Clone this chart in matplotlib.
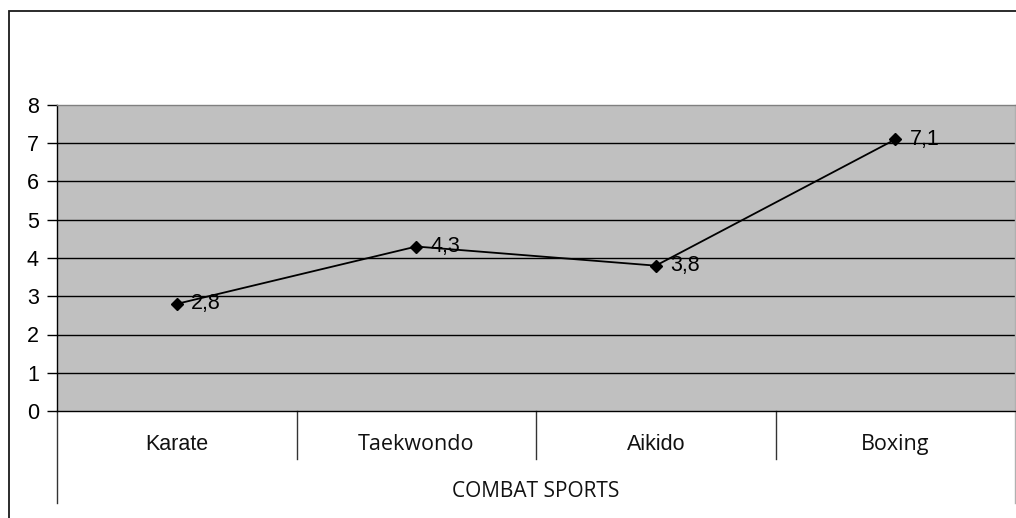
import matplotlib
matplotlib.use("Agg")
import matplotlib.pyplot as plt
from matplotlib.patches import Rectangle

sports = ["Karate", "Taekwondo", "Aikido", "Boxing"]
scores = [2.8, 4.3, 3.8, 7.1]
score_labels = ["2,8", "4,3", "3,8", "7,1"]
y_ticks = [0, 1, 2, 3, 4, 5, 6, 7, 8]
axis_title = "COMBAT SPORTS"

W, H = 1016, 518
fig = plt.figure(figsize=(W / 100, H / 100), dpi=100)
fig.patch.set_facecolor("white")

# outer chart frame, running off the right and bottom edges
fig.patches.append(Rectangle((9 / W, -0.05), 1.2, (H - 11) / H + 0.05,
                             transform=fig.transFigure, fill=False,
                             edgecolor="#1a1a1a", linewidth=1.3))

ax = fig.add_axes([57 / W, (H - 411) / H, (1015 - 57) / W, (411 - 105) / H])
ax.set_facecolor("#c0c0c0")
ax.set_xlim(0, len(sports))
ax.set_ylim(0, 8)

for v in y_ticks[1:-1]:
    ax.axhline(v, color="black", linewidth=1.0, zorder=1)

ax.spines["top"].set_color("#808080")
ax.spines["right"].set_color("#b0b0b0")
ax.spines["left"].set_color("black")
ax.spines["bottom"].set_color("black")
for s in ax.spines.values():
    s.set_linewidth(1.0)

ax.set_yticks(y_ticks)
ax.set_yticklabels([str(v) for v in y_ticks], family="Liberation Sans",
                   fontsize=15.5)
ax.tick_params(axis="y", length=7, width=1, color="black", pad=6)
ax.set_xticks([])

xs = [i + 0.5 for i in range(len(sports))]
ax.plot(xs, scores, color="black", linewidth=1.3, marker="D",
        markersize=6.5, markerfacecolor="black", zorder=3)
for x, y, lab in zip(xs, scores, score_labels):
    ax.text(x + 0.06, y, lab, va="center", ha="left", fontsize=15.5,
            family="Liberation Sans", color="black", zorder=4)

# category boxes below the axis
tr = ax.get_xaxis_transform()
for i in range(1, len(sports)):
    ax.plot([i, i], [0, -0.157], color="#333333", linewidth=1.0,
            transform=tr, clip_on=False)
ax.plot([0, 0], [0, -0.301], color="#333333", linewidth=1.0,
        transform=tr, clip_on=False)
ax.plot([len(sports)] * 2, [0, -0.301], color="#b0b0b0", linewidth=1.0,
        transform=tr, clip_on=False)

fonts = ["Liberation Sans", "Open Sans", "Liberation Sans", "Open Sans"]
for x, name, fam in zip(xs, sports, fonts):
    ax.text(x, -0.111, name, transform=tr, ha="center", va="center",
            fontsize=15.5, family=fam, color="#111111")

ax.text(len(sports) / 2, -0.262, axis_title, transform=tr, ha="center",
        va="center", fontsize=15, family="Open Sans", color="#111111")

fig.savefig("out.png", dpi=100, facecolor="white")
